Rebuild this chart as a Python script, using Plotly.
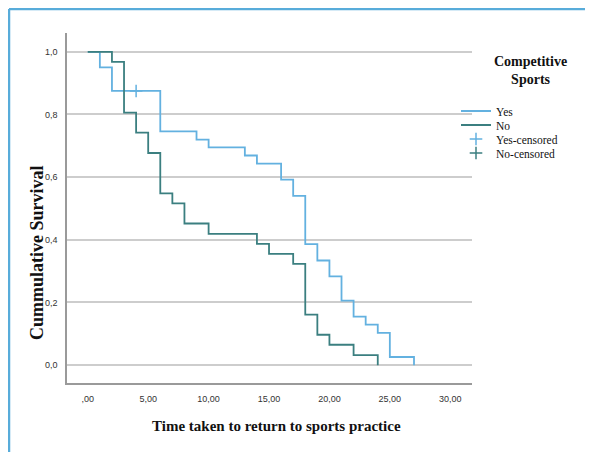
import plotly.graph_objects as go

# ---- data (Kaplan-Meier steps) ----
yes_time = [0, 1, 2, 6, 9, 10, 13, 14, 16, 17, 18, 19, 20, 21, 22, 23, 24, 25, 27]
yes_surv = [1.0, 0.95, 0.875, 0.746, 0.720, 0.695, 0.669, 0.643, 0.592, 0.540,
            0.386, 0.334, 0.283, 0.206, 0.155, 0.129, 0.103, 0.026, 0.0]
no_time = [0, 2, 3, 4, 5, 6, 7, 8, 10, 14, 15, 17, 18, 19, 20, 22, 24]
no_surv = [1.0, 0.968, 0.806, 0.742, 0.677, 0.548, 0.516, 0.452, 0.419, 0.387,
           0.355, 0.323, 0.161, 0.097, 0.065, 0.032, 0.0]
yes_cens_time = [4]
yes_cens_surv = [0.875]
no_cens_time = [None]
no_cens_surv = [None]

x_tickvals = [0, 5, 10, 15, 20, 25, 30]
x_ticktext = [",00", "5,00", "10,00", "15,00", "20,00", "25,00", "30,00"]
y_tickvals = [0.0, 0.2, 0.4, 0.6, 0.8, 1.0]
y_ticktext = ["0,0", "0,2", "0,4", "0,6", "0,8", "1,0"]

series_names = ["Yes", "No", "Yes-censored", "No-censored"]
legend_title = "Competitive<br>Sports"
x_title = "Time taken to return to sports practice"
y_title = "Cummulative Survival"

# ---- styling / layout (page body adds an 8px offset) ----
OFF = 8
W, H = 593 - OFF, 452 - OFF
PLOT_L, PLOT_R, PLOT_T, PLOT_B = 67, 472, 33, 383   # target window pixels
ML, MR = PLOT_L - OFF, W - (PLOT_R - OFF)
MT, MB = PLOT_T - OFF, H - (PLOT_B - OFF)
PW, PH = W - ML - MR, H - MT - MB
YES_C = "#63b1e0"
NO_C = "#3b7f80"
FRAME_C = "#58acda"
SERIF = "Liberation Serif, Times New Roman, serif"
SANS = "Liberation Sans Narrow, Liberation Sans, Arial, sans-serif"


def fx(p):
    return (p - OFF - ML) / PW


def fy(p):
    return (H - MB - (p - OFF)) / PH


fig = go.Figure()
fig.add_trace(go.Scatter(x=yes_time, y=yes_surv, mode="lines", line_shape="hv",
                         line=dict(color=YES_C, width=1.8), name=series_names[0],
                         legend="legend"))
fig.add_trace(go.Scatter(x=no_time, y=no_surv, mode="lines", line_shape="hv",
                         line=dict(color=NO_C, width=1.8), name=series_names[1],
                         legend="legend2"))
fig.add_trace(go.Scatter(x=yes_cens_time, y=yes_cens_surv, mode="markers",
                         marker=dict(symbol="cross-thin", size=9,
                                     line=dict(color=YES_C, width=1.5)),
                         name=series_names[2], legend="legend3"))
fig.add_trace(go.Scatter(x=no_cens_time, y=no_cens_surv, mode="markers",
                         marker=dict(symbol="cross-thin", size=9,
                                     line=dict(color=NO_C, width=1.5)),
                         name=series_names[3], legend="legend4"))

leg_rows = [111, 125, 139, 153]


def leg(row):
    return dict(x=fx(456), y=fy(row), xanchor="left", yanchor="middle",
                font=dict(family=SERIF, size=11.5, color="#111111"),
                bgcolor="rgba(0,0,0,0)", borderwidth=0)


fig.update_layout(
    width=W, height=H,
    margin=dict(l=ML, r=MR, t=MT, b=MB, autoexpand=False),
    paper_bgcolor="white", plot_bgcolor="white",
    showlegend=True,
    legend=leg(leg_rows[0]), legend2=leg(leg_rows[1]),
    legend3=leg(leg_rows[2]), legend4=leg(leg_rows[3]),
    xaxis=dict(range=[-1.72, 31.8], tickvals=x_tickvals, ticktext=x_ticktext,
               showgrid=False, zeroline=False, showline=True,
               linecolor="#9a9a9a", linewidth=1.5, ticks="",
               ticklabelstandoff=6,
               tickfont=dict(family=SANS, size=9, color="#333333")),
    yaxis=dict(range=[-0.057, 1.06], tickvals=y_tickvals, ticktext=y_ticktext,
               showgrid=True, gridcolor="#cdcdcd", gridwidth=1.5,
               zeroline=False, showline=True,
               linecolor="#9a9a9a", linewidth=1.5, ticks="",
               ticklabelstandoff=6,
               tickfont=dict(family=SANS, size=9, color="#333333")),
    annotations=[
        dict(text="<b>" + y_title + "</b>", xref="paper", yref="paper",
             x=fx(37), y=fy(253), textangle=-90, showarrow=False,
             xanchor="center", yanchor="middle",
             font=dict(family=SERIF, size=18, color="#111111")),
        dict(text="<b>" + x_title + "</b>", xref="paper", yref="paper",
             x=fx(276), y=fy(426), showarrow=False,
             xanchor="center", yanchor="middle",
             font=dict(family=SERIF, size=15, color="#111111")),
        dict(text="<b>" + legend_title + "</b>", xref="paper", yref="paper",
             x=fx(530), y=fy(71), showarrow=False,
             xanchor="center", yanchor="middle",
             font=dict(family=SERIF, size=14, color="#111111")),
    ],
    shapes=[
        dict(type="line", xref="paper", yref="paper",
             x0=fx(9), x1=fx(9), y0=fy(9), y1=fy(456),
             line=dict(color=FRAME_C, width=2.5)),
        dict(type="line", xref="paper", yref="paper",
             x0=fx(9), x1=fx(597), y0=fy(9), y1=fy(9),
             line=dict(color=FRAME_C, width=2.5)),
    ],
)

fig.write_html("out.html")
